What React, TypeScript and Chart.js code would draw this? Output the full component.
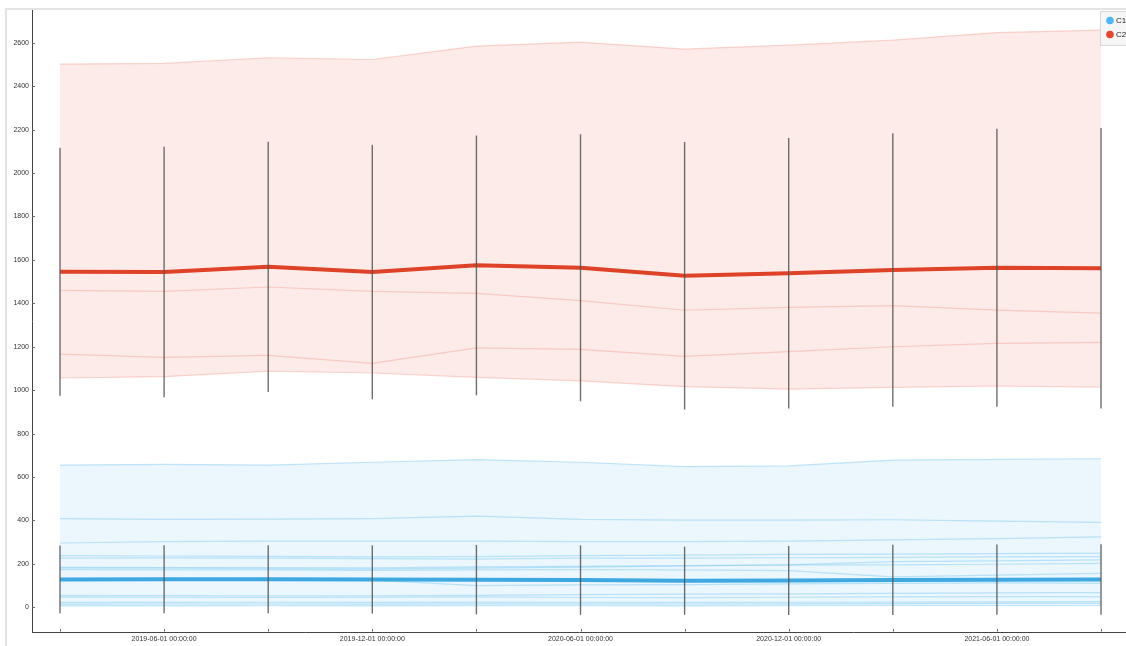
import React, { useEffect, useRef } from 'react';
import { Chart, registerables } from 'chart.js';

Chart.register(...registerables);

// ---- data ----
const dates = [
  '2019-03-01 00:00:00', '2019-06-01 00:00:00', '2019-09-01 00:00:00', '2019-12-01 00:00:00',
  '2020-03-01 00:00:00', '2020-06-01 00:00:00', '2020-09-01 00:00:00', '2020-12-01 00:00:00',
  '2021-03-01 00:00:00', '2021-06-01 00:00:00', '2021-09-01 00:00:00',
];
const xTickLabels = [
  '2019-06-01 00:00:00', '2019-12-01 00:00:00', '2020-06-01 00:00:00',
  '2020-12-01 00:00:00', '2021-06-01 00:00:00',
];
const seriesNames = ['C1', 'C2'];

const redMean = [1545, 1544, 1568, 1544, 1575, 1564, 1527, 1538, 1553, 1564, 1562];
const redErr = [571, 577, 576, 586, 598, 615, 616, 623, 630, 640, 646];
const redTop = [2502, 2505, 2531, 2523, 2585, 2603, 2571, 2589, 2612, 2647, 2658];
const redUpper = [1460, 1455, 1475, 1455, 1446, 1412, 1368, 1381, 1389, 1369, 1355];
const redLower = [1166, 1151, 1160, 1123, 1195, 1188, 1156, 1177, 1200, 1215, 1220];
const redBottom = [1056, 1062, 1087, 1079, 1059, 1043, 1016, 1005, 1013, 1019, 1014];

const blueMean = [128, 129, 129, 128, 127, 125, 122, 123, 126, 127, 128];
const blueErr = [156, 157, 157, 157, 160, 160, 157, 159, 162, 162, 162];
const blueTop = [655, 658, 655, 668, 680, 668, 648, 651, 678, 681, 684];
const blueRun2 = [408, 405, 406, 408, 420, 405, 401, 401, 403, 397, 391];
const blueRun3 = [296, 302, 305, 305, 305, 302, 302, 305, 310, 316, 324];
const blueRun4 = [238, 236, 234, 232, 233, 238, 240, 244, 245, 247, 249];
const blueRun5 = [226, 227, 226, 224, 222, 226, 226, 228, 230, 232, 233];
const blueRun6 = [184, 183, 183, 181, 186, 188, 192, 195, 210, 214, 218];
const blueRun7 = [180, 180, 178, 176, 180, 185, 190, 195, 195, 198, 202];
const blueRun8 = [173, 172, 172, 170, 172, 173, 172, 169, 140, 148, 156];
const blueRun9 = [128, 127, 126, 125, 100, 103, 104, 108, 110, 112, 110];
const blueRun10 = [54, 54, 52, 52, 55, 58, 60, 62, 64, 66, 67];
const blueRun11 = [47, 46, 45, 46, 48, 45, 44, 46, 48, 49, 49];
const blueRun12 = [22, 22, 23, 22, 24, 23, 22, 23, 24, 25, 26];
const blueRun13 = [14, 15, 15, 14, 16, 16, 15, 16, 17, 18, 18];
const blueBottom = [6, 6, 7, 6, 7, 7, 6, 7, 8, 8, 8];

const redRuns = [redTop, redUpper, redLower, redBottom];
const blueRuns = [blueTop, blueRun2, blueRun3, blueRun4, blueRun5, blueRun6, blueRun7,
  blueRun8, blueRun9, blueRun10, blueRun11, blueRun12, blueRun13, blueBottom];

// ---- styles ----
const RED = 'rgb(222, 66, 40)';
const BLUE = 'rgb(62, 168, 224)';
const RED_FAINT = 'rgba(244, 150, 138, 0.4)';
const BLUE_FAINT = 'rgba(120, 200, 242, 0.45)';
const RED_FILL = 'rgb(252, 235, 232)';
const BLUE_FILL = 'rgb(235, 247, 253)';
const LEG_BLUE = 'rgb(76, 184, 245)';
const LEG_RED = 'rgb(232, 70, 44)';
const FONT = '"Liberation Sans", Arial, sans-serif';

const pts = (vals: number[]) => vals.map((v, i) => ({ x: i, y: v }));

const errorBarPlugin = {
  id: 'errorBars',
  afterDatasetsDraw(chart: any) {
    const { ctx, scales } = chart;
    const x = scales.x, y = scales.y;
    ctx.save();
    ctx.strokeStyle = 'rgba(85, 85, 85, 0.85)';
    ctx.lineWidth = 1.4;
    const groups: [number[], number[]][] = [[blueMean, blueErr], [redMean, redErr]];
    groups.forEach(([m, e]) => {
      m.forEach((v, i) => {
        const px = x.getPixelForValue(i);
        ctx.beginPath();
        ctx.moveTo(px, y.getPixelForValue(v + e[i]));
        ctx.lineTo(px, y.getPixelForValue(v - e[i]));
        ctx.stroke();
      });
    });
    ctx.restore();
  },
};

const decorPlugin = {
  id: 'decor',
  beforeDraw(chart: any) {
    const { ctx } = chart;
    ctx.save();
    ctx.fillStyle = '#e4e4e4';
    ctx.fillRect(5, 8, 1121, 2);
    ctx.fillRect(5, 8, 2, 638);
    ctx.restore();
  },
  afterDraw(chart: any) {
    const { ctx, scales, chartArea } = chart;
    const x = scales.x, y = scales.y;
    ctx.save();
    ctx.strokeStyle = '#666';
    ctx.lineWidth = 1;
    x.ticks.forEach((t: any) => {
      const px = Math.round(x.getPixelForValue(t.value)) + 0.5;
      ctx.beginPath();
      ctx.moveTo(px, chartArea.bottom - 0.5);
      ctx.lineTo(px, chartArea.bottom - 3);
      ctx.stroke();
    });
    y.ticks.forEach((t: any) => {
      const py = Math.round(y.getPixelForValue(t.value)) + 0.5;
      ctx.beginPath();
      ctx.moveTo(chartArea.left, py);
      ctx.lineTo(chartArea.left + 3, py);
      ctx.stroke();
    });
    // legend
    const lx = 1100, ly = 11;
    ctx.fillStyle = 'rgba(245, 245, 245, 0.95)';
    ctx.fillRect(lx, ly, 40, 34);
    ctx.strokeStyle = '#d8d8d8';
    ctx.strokeRect(lx + 0.5, ly + 0.5, 40, 34);
    const colors = [LEG_BLUE, LEG_RED];
    seriesNames.forEach((name, i) => {
      const cy = ly + 9.5 + i * 14;
      ctx.beginPath();
      ctx.fillStyle = colors[i];
      ctx.arc(lx + 10, cy, 3.8, 0, Math.PI * 2);
      ctx.fill();
      ctx.fillStyle = '#222';
      ctx.font = `8px ${FONT}`;
      ctx.textBaseline = 'middle';
      ctx.textAlign = 'left';
      ctx.fillText(name, lx + 16, cy + 0.5);
    });
    ctx.restore();
  },
};

export default function App() {
  const ref = useRef<HTMLCanvasElement | null>(null);

  useEffect(() => {
    if (!ref.current) return;
    const redStart = 2;
    const blueStart = redStart + redRuns.length;
    const datasets: any[] = [
      { label: seriesNames[1], data: pts(redMean), borderColor: RED, borderWidth: 4, pointRadius: 0, fill: false },
      { label: seriesNames[0], data: pts(blueMean), borderColor: BLUE, borderWidth: 4, pointRadius: 0, fill: false },
    ];
    redRuns.forEach((r, i) => {
      datasets.push({
        label: 'C2 run', data: pts(r), borderColor: RED_FAINT, borderWidth: 1.2, pointRadius: 0,
        fill: i === 0 ? { target: redStart + redRuns.length - 1, above: RED_FILL, below: RED_FILL } : false,
      });
    });
    blueRuns.forEach((r, i) => {
      datasets.push({
        label: 'C1 run', data: pts(r), borderColor: BLUE_FAINT, borderWidth: 1.2, pointRadius: 0,
        fill: i === 0 ? { target: blueStart + blueRuns.length - 1, above: BLUE_FILL, below: BLUE_FILL } : false,
      });
    });

    const chart = new Chart(ref.current, {
      type: 'line',
      data: { datasets },
      options: {
        animation: false,
        responsive: false,
        layout: { padding: { top: 10, left: 0, right: 0, bottom: 0 } },
        elements: { line: { tension: 0 } },
        plugins: {
          legend: { display: false },
          tooltip: { enabled: false },
          filler: { drawTime: 'beforeDatasetsDraw' },
        } as any,
        scales: {
          x: {
            type: 'linear',
            min: -0.269,
            max: 10.24,
            grid: { display: false, drawTicks: false },
            border: { display: true, color: '#444', width: 1 },
            ticks: {
              stepSize: 1,
              includeBounds: false,
              autoSkip: false,
              maxRotation: 0,
              padding: 3,
              color: '#333',
              font: { family: FONT, size: 7 },
              callback: (v: any) => {
                const lbl = dates[Math.round(Number(v))];
                return lbl && xTickLabels.includes(lbl) ? lbl : '';
              },
            },
            afterFit: (s: any) => { s.height = 14; },
          },
          y: {
            type: 'linear',
            min: -114,
            max: 2751,
            grid: { display: false, drawTicks: false },
            border: { display: true, color: '#444', width: 1 },
            ticks: {
              stepSize: 200,
              includeBounds: false,
              padding: 3,
              color: '#333',
              font: { family: FONT, size: 7 },
              callback: (v: any) => String(Math.round(Number(v))),
            },
            afterFit: (s: any) => { s.width = 32; },
          },
        },
      },
      plugins: [decorPlugin, errorBarPlugin],
    });
    return () => chart.destroy();
  }, []);

  return (
    <div style={{ position: 'absolute', left: 0, top: 0, width: 1126, height: 646, background: '#fff', overflow: 'hidden' }}>
      <canvas ref={ref} width={1126} height={646} style={{ display: 'block' }} />
    </div>
  );
}
